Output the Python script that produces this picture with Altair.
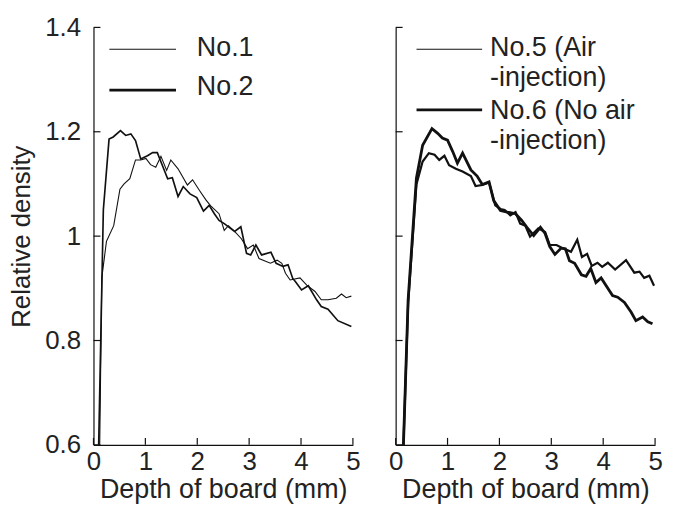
import altair as alt
import pandas as pd

FONT = "Liberation Sans"
INK = "#111111"

# ---- data ----
X_TICKS = [0, 1, 2, 3, 4, 5]
Y_TICKS = [0.6, 0.8, 1.0, 1.2, 1.4]

no1_x = [0.12, 0.16, 0.25, 0.39, 0.51, 0.59, 0.70, 0.81, 0.91, 1.01, 1.10, 1.20, 1.30,
         1.41, 1.49, 1.63, 1.81, 1.91, 2.04, 2.17, 2.26, 2.42, 2.52, 2.60, 2.72, 2.85,
         2.97, 3.08, 3.19, 3.41, 3.54, 3.63, 3.70, 3.79, 3.98, 4.11, 4.27, 4.39, 4.52,
         4.68, 4.78, 4.87, 4.97]
no1_y = [0.60, 0.92, 0.99, 1.02, 1.09, 1.10, 1.11, 1.146, 1.146, 1.149, 1.137, 1.132, 1.153,
         1.126, 1.146, 1.129, 1.098, 1.108, 1.088, 1.069, 1.058, 1.043, 1.011, 1.020, 1.009, 0.995,
         0.976, 0.983, 0.957, 0.948, 0.954, 0.948, 0.929, 0.916, 0.920, 0.906, 0.894, 0.878, 0.878,
         0.881, 0.889, 0.882, 0.885]

no2_x = [0.10, 0.19, 0.30, 0.38, 0.52, 0.62, 0.72, 0.81, 0.91, 1.04, 1.14, 1.23, 1.33,
         1.43, 1.52, 1.63, 1.73, 1.86, 1.99, 2.12, 2.23, 2.33, 2.42, 2.52, 2.72, 2.84,
         2.95, 3.03, 3.13, 3.24, 3.42, 3.52, 3.65, 3.75, 3.84, 3.89, 4.01, 4.14, 4.30,
         4.39, 4.52, 4.71, 4.97]
no2_y = [0.60, 1.05, 1.186, 1.19, 1.202, 1.193, 1.196, 1.183, 1.148, 1.154, 1.160, 1.160, 1.135,
         1.110, 1.112, 1.076, 1.095, 1.081, 1.074, 1.048, 1.059, 1.043, 1.030, 1.024, 1.009, 1.018,
         0.967, 0.964, 0.983, 0.964, 0.969, 0.948, 0.942, 0.945, 0.919, 0.913, 0.897, 0.905, 0.878,
         0.865, 0.860, 0.838, 0.827]

no5_x = [0.15, 0.24, 0.40, 0.52, 0.64, 0.75, 0.84, 0.94, 1.03, 1.16, 1.29, 1.45, 1.54,
         1.67, 1.80, 1.92, 2.02, 2.10, 2.21, 2.31, 2.40, 2.50, 2.59, 2.75, 2.88, 2.97,
         3.10, 3.22, 3.38, 3.50, 3.59, 3.69, 3.78, 3.89, 3.98, 4.09, 4.23, 4.44, 4.60,
         4.70, 4.79, 4.89, 4.98]
no5_y = [0.60, 0.87, 1.099, 1.143, 1.159, 1.156, 1.146, 1.154, 1.136, 1.129, 1.124, 1.115, 1.096,
         1.098, 1.103, 1.059, 1.052, 1.050, 1.040, 1.046, 1.024, 1.020, 0.999, 1.015, 1.008, 0.983,
         0.983, 0.977, 0.970, 0.993, 0.960, 0.966, 0.943, 0.949, 0.941, 0.949, 0.936, 0.954, 0.930,
         0.932, 0.920, 0.924, 0.905]

no6_x = [0.15, 0.24, 0.40, 0.52, 0.70, 0.81, 0.90, 1.00, 1.10, 1.19, 1.29, 1.45, 1.57,
         1.67, 1.80, 1.89, 2.02, 2.15, 2.31, 2.43, 2.53, 2.66, 2.79, 2.88, 2.97, 3.07,
         3.19, 3.27, 3.35, 3.45, 3.58, 3.67, 3.76, 3.86, 3.96, 4.18, 4.28, 4.41, 4.54,
         4.63, 4.76, 4.86, 4.95]
no6_y = [0.60, 0.877, 1.111, 1.174, 1.206, 1.197, 1.188, 1.184, 1.162, 1.140, 1.159, 1.127, 1.115,
         1.099, 1.104, 1.068, 1.049, 1.046, 1.043, 1.030, 1.017, 1.001, 1.017, 1.005, 0.980, 0.965,
         0.977, 0.976, 0.953, 0.948, 0.926, 0.923, 0.938, 0.911, 0.920, 0.886, 0.883, 0.873, 0.854,
         0.838, 0.845, 0.836, 0.832]

LEFT_NAMES = ["No.1", "No.2"]
RIGHT_NAMES = ["No.5 (Air\n-injection)", "No.6 (No air\n-injection)"]

W, H = 261, 420
THIN, THICK = 1.1, 2.8


def panel(series, names, show_y, legend):
    df = pd.concat(
        [pd.DataFrame({"x": xs, "y": ys, "series": n}) for (xs, ys), n in zip(series, names)],
        ignore_index=True,
    )
    xscale = alt.Scale(domain=[0, 5], nice=False, zero=False)
    yscale = alt.Scale(domain=[0.6, 1.4], nice=False, zero=False)
    xaxis = alt.Axis(values=X_TICKS, format="d", ticks=False, grid=False, labelFlush=False,
                     labelPadding=4, title="Depth of board (mm)", titlePadding=2,
                     titleFontSize=27)
    if show_y:
        yaxis = alt.Axis(values=Y_TICKS, format=".1~f", ticks=False, grid=False,
                         labelPadding=13, title="Relative density", titlePadding=10)
    else:
        yaxis = alt.Axis(values=Y_TICKS, ticks=False, grid=False, labels=False, title=None)

    lines = alt.Chart(df).mark_line(color=INK, strokeJoin="miter").encode(
        x=alt.X("x:Q", scale=xscale, axis=xaxis),
        y=alt.Y("y:Q", scale=yscale, axis=yaxis),
        strokeWidth=alt.StrokeWidth("series:N", scale=alt.Scale(domain=names, range=[THIN, THICK]),
                                    legend=None),
        detail="series:N",
        order=alt.Order("x:Q"),
    )
    ytick = alt.Chart(pd.DataFrame({"v": Y_TICKS})).mark_rule(color=INK, strokeWidth=1.2).encode(
        y=alt.Y("v:Q", scale=yscale, axis=yaxis), x=alt.value(0), x2=alt.value(7))
    xtick = alt.Chart(pd.DataFrame({"v": X_TICKS})).mark_rule(color=INK, strokeWidth=1.2).encode(
        x=alt.X("v:Q", scale=xscale, axis=xaxis), y=alt.value(H), y2=alt.value(H - 7))

    layers = [lines, ytick, xtick]
    for name, sw, lx1, lx2, ly, tx, ty in legend:
        layers.append(
            alt.Chart(pd.DataFrame({"t": [name]})).mark_rule(color=INK, strokeWidth=sw).encode(
                x=alt.value(lx1), x2=alt.value(lx2), y=alt.value(ly))
        )
        layers.append(
            alt.Chart(pd.DataFrame({"t": [name]})).mark_text(
                align="left", baseline="middle", font=FONT, fontSize=27, color="#222222",
                lineBreak="\n", lineHeight=30).encode(
                x=alt.value(tx), y=alt.value(ty), text="t:N")
        )
    return alt.layer(*layers).properties(width=W, height=H)


left = panel([(no1_x, no1_y), (no2_x, no2_y)], LEFT_NAMES, True,
             [(LEFT_NAMES[0], THIN, 16, 83, 22, 104, 21),
              (LEFT_NAMES[1], THICK, 16, 83, 63, 104, 60)])
right = panel([(no5_x, no5_y), (no6_x, no6_y)], RIGHT_NAMES, False,
              [(RIGHT_NAMES[0], THIN, 21, 87, 22, 95, 21),
               (RIGHT_NAMES[1], THICK, 21, 87, 83, 95, 84)])

chart = alt.hconcat(left, right, spacing=27).properties(
    padding={"left": 0, "top": 5, "right": 5, "bottom": 5}
).configure_view(stroke=None).configure_axis(
    domainColor=INK, domainWidth=1.2,
    labelFont=FONT, labelFontSize=26, labelColor="#222222",
    titleFont=FONT, titleFontSize=26, titleFontWeight="normal", titleColor="#222222",
)

chart.save("out.html", embed_options={"renderer": "svg", "actions": False})
